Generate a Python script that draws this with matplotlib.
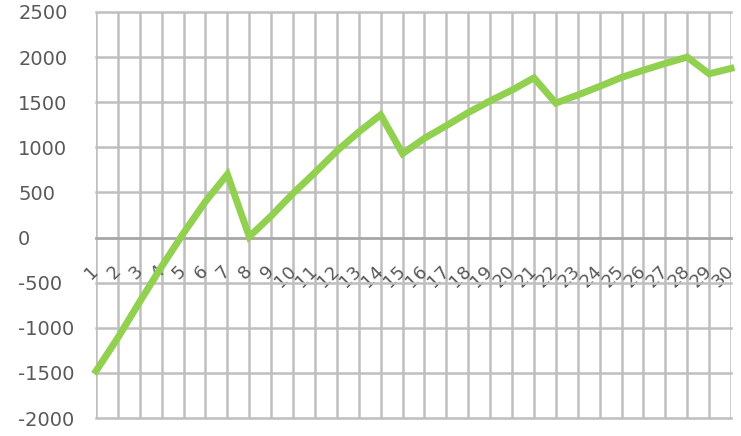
import matplotlib.pyplot as plt
import numpy as np

days = list(range(1, 31))
balance = [-1480, -1110, -710, -320, 50, 400, 700,
           10, 240, 490, 720, 960, 1170, 1360,
           930, 1100, 1240, 1385, 1515, 1635, 1770,
           1490, 1580, 1675, 1775, 1855, 1930, 2000,
           1815, 1875]
y_ticks = list(range(-2000, 2501, 500))

grid_color = '#BFBFBF'
text_color = '#595959'
plt.rcParams['axes.unicode_minus'] = False

fig = plt.figure(figsize=(7.41, 4.36), dpi=100)
ax = fig.add_axes([96 / 741, 1 - 418 / 436, (731 - 96) / 741, (418 - 12) / 436])

ax.plot(days, balance, color='#92D050', linewidth=5, solid_joinstyle='miter',
        clip_on=False, zorder=3)

ax.set_xlim(days[0], days[-1])
ax.set_ylim(y_ticks[0], y_ticks[-1])
ax.set_yticks(y_ticks)
ax.set_xticks(days)

# gridlines on every category and value step, no line on the first category
ax.grid(True, color=grid_color, linewidth=1.8)
for line in ax.get_xgridlines() + ax.get_ygridlines():
    line.set_clip_on(False)
ax.get_xgridlines()[0].set_visible(False)

for side in ('top', 'right', 'left'):
    ax.spines[side].set_visible(False)
ax.spines['bottom'].set_position(('data', 0))
ax.spines['bottom'].set_color('#A6A6A6')
ax.spines['bottom'].set_linewidth(1.8)

# small cross mark where the category axis starts
ax.set_xticks([days[0]], minor=True)
ax.tick_params(axis='x', which='minor', length=15, width=1.8, color='#A6A6A6',
               direction='inout')

ax.tick_params(axis='x', which='major', length=0, pad=22, labelsize=13,
               labelcolor=text_color)
ax.set_xticklabels([str(d) for d in days])
for lbl in ax.get_xticklabels():
    lbl.set_rotation(45)
    lbl.set_ha('right')
    lbl.set_va('center')
    lbl.set_rotation_mode('anchor')

ax.tick_params(axis='y', length=0, pad=56, labelsize=14, labelcolor=text_color)
for lbl in ax.get_yticklabels():
    lbl.set_ha('left')

fig.savefig('out.png', dpi=100)
